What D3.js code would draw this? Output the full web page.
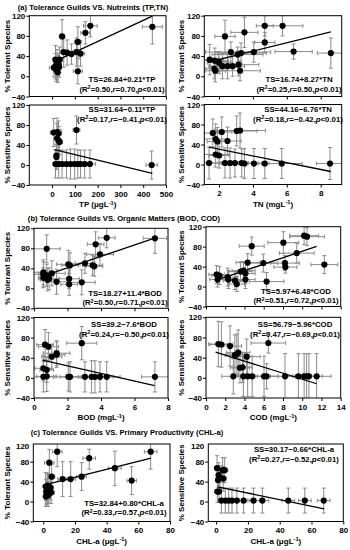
<!DOCTYPE html>
<html><head><meta charset="utf-8">
<script src="https://cdn.jsdelivr.net/npm/d3@7"></script>
<style>body{margin:0;background:#fff}svg{display:block}text{font-family:"Liberation Sans",Arial,sans-serif;font-weight:bold}</style>
</head><body><svg id="c" width="350" height="550"></svg>
<script>
// ---- data: [x, y, xErr, yErr] ----
const tsTP = [[44,79,12,33],[168,100,30,22],[146,86,20,22],[440,98,44,34],[51,48,15,30],[66,47,20,25],[85,44,25,20],[107,48,18,28],[113,68,15,30],[125,45,18,25],[113,10,20,25],[15,33,10,28],[22,28,8,25],[29,23,10,22],[15,20,6,25],[8,17,20,18],[22,17,10,24],[19,12,8,22],[25,8,6,20],[33,33,12,25],[30,18,10,20]];
const tsTN = [[4.7,100,0.5,20],[5.75,100,1.2,20],[4.7,67,0.6,20],[3.5,87,0.8,30],[2.35,79,0.6,32],[8.6,46,0.8,30],[4.05,48,1.0,20],[2.7,48,1.5,20],[3.3,46,1.5,20],[3.1,43,1.5,15],[1.45,33,0.8,30],[1.75,31,0.8,25],[1.95,29,0.6,20],[3.15,23,1.2,22],[2.2,20,0.8,25],[2.5,20,1.0,25],[1.72,15,0.5,20],[1.78,11,0.6,22],[3.24,11,1.2,20],[2.0,27,0.7,22],[2.8,20,0.5,20],[6.4,49,1.1,15]];
const ssTP = [[7,65,15,28],[22,66,20,28],[28,63,12,25],[22,53,8,30],[29,49,10,28],[33,46,12,25],[19,19,6,25],[19,16,8,25],[107,70,15,28],[437,0,25,28],[15,2,10,28],[29,2,12,28],[44,2,15,28],[63,2,20,28],[81,2,18,30],[99,2,20,30],[113,2,20,28],[125,2,18,28],[143,2,20,28],[166,2,25,28]];
const ssTN = [[1.63,63,0.5,28],[2.16,65,0.6,30],[3.04,67,1.2,30],[3.24,68,1.5,35],[1.8,51,0.7,30],[1.9,46,0.6,28],[2.5,47,0.8,28],[1.8,20,0.8,25],[2.0,18,0.6,25],[1.41,3,0.6,32],[2.35,3,0.8,30],[2.65,3,0.6,30],[2.94,3,0.8,28],[3.34,3,1.0,28],[3.5,2,0.8,30],[4.06,2,0.9,30],[4.7,2,1.0,30],[5.7,2,1.2,30],[8.55,2,0.8,32]];
const tsBOD = [[0.76,79,0.8,28],[4.34,101,0.5,20],[3.68,88,0.5,25],[3.94,68,0.8,22],[7.22,100,0.7,30],[2.05,48,0.7,28],[2.15,46,0.5,25],[3.04,50,0.6,20],[3.5,46,0.6,20],[3.6,44,0.5,20],[0.56,32,0.8,25],[0.56,28,0.6,25],[1.06,30,0.8,25],[0.76,26,0.4,22],[0.56,21,0.3,20],[0.9,19,0.6,22],[0.8,17,0.4,22],[1.35,13,0.6,25],[2.1,19,0.6,20],[2.1,8,0.5,22],[2.85,12,0.8,25]];
const ssBOD = [[0.66,66,0.5,30],[0.86,62,0.6,28],[1.06,42,0.6,25],[1.35,49,0.8,25],[1.35,46,0.5,25],[2.85,69,0.9,33],[0.56,19,0.5,25],[0.76,16,0.4,25],[0.56,2,0.6,30],[0.76,3,0.6,30],[2.05,2,0.8,28],[2.15,2,0.6,30],[3.04,2,0.8,30],[3.44,2,0.8,32],[3.64,2,0.6,32],[3.94,2,0.8,30],[4.34,2,0.8,30],[7.22,2,0.8,30]];
const tsCOD = [[4.75,81,1.3,18],[8.04,88,1.6,22],[10.2,102,1.5,18],[10.5,100,1.8,18],[9.43,67,1.8,20],[12.3,44,1.4,18],[5.96,47,1.5,18],[4.33,48,1.2,18],[8.2,47,1.5,15],[8.25,39,1.2,12],[1.1,24,0.8,18],[1.4,22,0.8,18],[2.25,19,1.0,18],[3.6,30,1.2,20],[3.9,32,1.2,18],[4.1,26,1.0,20],[1.2,14,0.8,15],[2.33,14,1.0,18],[3.0,12,1.2,18],[4.1,14,1.0,18],[3.2,5,0.8,15],[6.3,10,1.8,18]];
const ssCOD = [[1.28,67,1.0,45],[1.6,66,1.2,45],[2.5,63,1.2,40],[3.2,47,1.0,40],[3.35,50,1.2,45],[4.23,42,1.4,35],[6.48,69,1.8,20],[3.0,45,1.0,40],[3.53,20,1.0,30],[3.8,21,1.0,30],[2.84,3,1.2,35],[3.88,3,1.0,40],[4.33,3,1.0,40],[4.8,3,1.2,40],[6.03,3,1.5,40],[6.3,3,1.2,25],[8.21,3,1.5,45],[9.6,3,1.2,45],[10.2,3,1.2,45],[10.46,3,1.2,45],[10.7,3,1.4,45],[11.5,3,1.5,45]];
const tsCHL = [[3.8,78,3,30],[8.8,100,3,30],[29,87,4,22],[67.8,100,4,35],[45.2,67,4,35],[55.8,42,3,28],[5.3,50,2,25],[12.2,45,3,35],[17.3,45,3,35],[24.2,50,3,28],[1.5,30,1.5,28],[2.5,25,1.5,30],[1.8,20,1,25],[3.5,22,1.5,25],[2.2,15,1,25],[3,12,1.5,22],[4.5,28,2,25],[1.6,10,1,20],[5,18,2,22],[2.8,32,1.5,25]];
const ssCHL = [[0.6,67,1.5,25],[1.6,53,1.5,25],[4.1,63,2,25],[5.4,63,2,25],[1.2,43,1.5,25],[2.5,47,1.5,25],[4.5,46,2,25],[0.8,20,1.5,22],[1.8,20,1.5,22],[3.3,2,2,25],[5.8,2,2.5,25],[7.9,2,3,25],[10,2,3,25],[13.1,2,3,25],[17.3,2,3.5,25],[23.5,2,4,25],[29.1,2,4,25],[45.4,2,4,25],[55.8,2,4,25],[67.7,2,4,25]];

// regression fits: [intercept, slope, xFrom, xTo]
const fits = {
  tsTP:[26.84,0.21,10,440], tsTN:[16.74,8.27,1.4,8.6], ssTP:[31.64,-0.11,10,440], ssTN:[44.16,-6.76,1.4,8.6],
  tsBOD:[18.27,11.4,0.5,7.2], ssBOD:[39.2,-7.6,0.5,7.2], tsCOD:[5.97,6.48,1.0,11.5], ssCOD:[56.79,-5.96,1.0,11.5],
  tsCHL:[32.84,0.80,1,68], ssCHL:[30.17,-0.66,1,68]
};
const yTicks = [-40,0,40,80,120];
const tpTicks = [0,100,200,300,400,500];
const tnTicks = [2,4,6,8];
const bodTicks = [0,2,4,6,8];
const codTicks = [0,2,4,6,8,10,12,14];
const chlTicks = [0,20,40,60,80];

const titles = ["(a) Tolerance Guilds VS. Nutreints (TP,TN)","(b) Tolerance Guilds VS. Organic Matters (BOD, COD)","(c) Tolerance Guilds VS. Primary Productivity (CHL-a)"];

const svg = d3.select("#c");
let clipId = 0;

function supText(sel, parts){
  parts.forEach(p=>{
    const t = sel.append("tspan").text(p[0]);
    if(p[1]==="sup") t.attr("font-size","0.7em").attr("dy","-0.4em");
    if(p[1]==="down") t.attr("dy","0.28em");
    if(p[1]==="i") t.attr("font-style","italic");
  });
}

function panel(c){
  const x = d3.scaleLinear().domain(c.xd).range([c.l,c.r]);
  const y = c.ys ? d3.scaleLinear().domain(c.ys[0]).range(c.ys[1])
                 : d3.scaleLinear().domain([-40,120]).range([c.b,c.t]);
  const g = svg.append("g");
  const id = "cl"+(clipId++);
  g.append("clipPath").attr("id",id).append("rect").attr("x",c.l).attr("y",c.t).attr("width",c.r-c.l).attr("height",c.b-c.t);
  const pg = g.append("g").attr("clip-path",`url(#${id})`);
  const eb = pg.append("g").attr("stroke","#8a8a8a").attr("stroke-width",1).attr("fill","none");
  c.data.forEach(d=>{
    const px=x(d[0]), py=y(d[1]);
    const x0=x(d[0]-d[2]), x1=x(d[0]+d[2]), y0=y(d[1]-d[3]), y1=y(d[1]+d[3]);
    eb.append("line").attr("x1",x0).attr("x2",x1).attr("y1",py).attr("y2",py);
    eb.append("line").attr("x1",x0).attr("x2",x0).attr("y1",py-2).attr("y2",py+2);
    eb.append("line").attr("x1",x1).attr("x2",x1).attr("y1",py-2).attr("y2",py+2);
    eb.append("line").attr("x1",px).attr("x2",px).attr("y1",y0).attr("y2",y1);
    eb.append("line").attr("x1",px-2).attr("x2",px+2).attr("y1",y0).attr("y2",y0);
    eb.append("line").attr("x1",px-2).attr("x2",px+2).attr("y1",y1).attr("y2",y1);
  });
  const f=c.fit;
  pg.append("line").attr("x1",x(f[2])).attr("y1",y(f[0]+f[1]*f[2])).attr("x2",x(f[3])).attr("y2",y(f[0]+f[1]*f[3]))
    .attr("stroke","#000").attr("stroke-width",1.3);
  pg.append("g").selectAll("circle").data(c.data).join("circle")
    .attr("cx",d=>x(d[0])).attr("cy",d=>y(d[1])).attr("r",3.1).attr("fill","#000");
  g.append("rect").attr("x",c.l).attr("y",c.t).attr("width",c.r-c.l).attr("height",c.b-c.t)
    .attr("fill","none").attr("stroke","#000").attr("stroke-width",1);
  const ya = g.append("g").attr("transform",`translate(${c.l},0)`)
    .call(d3.axisLeft(y).tickValues(yTicks).tickSize(3).tickPadding(1).tickSizeOuter(0));
  ya.select(".domain").remove();
  ya.selectAll("text").attr("font-size",8).attr("font-family","Liberation Sans, Arial").attr("font-weight","bold").attr("fill","#000");
  if(c.ys) ya.selectAll(".tick").filter(d=>d>100).select("line").remove();
  const xa = g.append("g").attr("transform",`translate(0,${c.b})`)
    .call(d3.axisBottom(x).tickValues(c.xt).tickSize(3).tickPadding(3).tickSizeOuter(0).tickFormat(c.showX? d3.format("d"):()=>""));
  xa.select(".domain").remove();
  xa.selectAll("text").attr("font-size",8).attr("font-family","Liberation Sans, Arial").attr("font-weight","bold").attr("fill","#000");
  svg.append("text").attr("transform",`translate(${c.yl},${(c.t+c.b)/2}) rotate(-90)`)
    .attr("text-anchor","middle").attr("font-size",8).text(c.ylab);
  if(c.showX){
    const t = svg.append("text").attr("x",(c.l+c.r)/2).attr("y",c.b+c.xlo).attr("text-anchor","middle").attr("font-size",8);
    supText(t,c.xlab);
  }
  svg.append("text").attr("x",c.ex).attr("y",c.ey).attr("text-anchor","middle").attr("font-size",7.8).text(c.eq1);
  const e2 = svg.append("text").attr("x",c.ex).attr("y",c.ey+9.5).attr("text-anchor","middle").attr("font-size",7.8);
  supText(e2,c.eq2);
}

function stats(r2,r){ return [["(R"],["2","sup"],["=" + r2 + ",","down"],["r","i"],["="+r+","],["p","i"],["<0.01)"]]; }
const tpLab=[["TP (\u03bcgL"],["-1","sup"],[")","down"]];
const tnLab=[["TN (mgL"],["-1","sup"],[")","down"]];
const bodLab=[["BOD (mgL"],["-1","sup"],[")","down"]];
const codLab=[["COD (mgL"],["-1","sup"],[")","down"]];
const chlLab=[["CHL-a (\u03bcgL"],["-1","sup"],[")","down"]];

svg.append("text").attr("x",93).attr("y",9.5).attr("text-anchor","middle").attr("font-size",7.6).text(titles[0]);
svg.append("text").attr("x",124).attr("y",221).attr("text-anchor","middle").attr("font-size",7.6).text(titles[1]);
svg.append("text").attr("x",127).attr("y",434.5).attr("text-anchor","middle").attr("font-size",7.6).text(titles[2]);

const L1={l:29.3,r:166}, R1={l:204.3,r:341.7};
panel({...L1,t:15.7,b:96.5,xd:[-100,500],xt:tpTicks,showX:false,data:tsTP,fit:fits.tsTP,yl:10,ylab:"% Tolerant Species",ex:122,ey:82,eq1:"TS=26.84+0.21*TP",eq2:stats("0.50","0.70")});
panel({...R1,t:15.7,b:96.5,xd:[1.13,9.24],xt:tnTicks,showX:false,data:tsTN,fit:fits.tsTN,yl:184,ylab:"% Tolerant Species",ex:299,ey:82,eq1:"TS=16.74+8.27*TN",eq2:stats("0.25","0.50")});
panel({...L1,t:105,b:185,xd:[-100,500],xt:tpTicks,showX:true,xlo:22,xlab:tpLab,data:ssTP,fit:fits.ssTP,yl:10,ylab:"% Sensitive Species",ex:122,ey:112,eq1:"SS=31.64\u22120.11*TP",eq2:stats("0.17","\u22120.41")});
panel({...R1,t:104.5,b:184.5,xd:[1.13,9.24],xt:tnTicks,showX:true,xlo:22,xlab:tnLab,data:ssTN,fit:fits.ssTN,yl:184,ylab:"% Sensitive Species",ex:298,ey:112,eq1:"SS=44.16\u22126.76*TN",eq2:stats("0.18","\u22120.42")});

const L2={l:34,r:168}, R2={l:206,r:340.7};
panel({...L2,t:228.3,b:308.3,xd:[0,8],xt:bodTicks,showX:false,data:tsBOD,fit:fits.tsBOD,yl:10,ylab:"% Tolerant Species",ex:125,ey:295.5,eq1:"TS=18.27+11.4*BOD",eq2:stats("0.50","0.71")});
panel({...R2,t:226.7,b:306.5,xd:[0,14],xt:codTicks,showX:false,data:tsCOD,fit:fits.tsCOD,yl:184,ylab:"% Tolerant Species",ex:296,ey:293.5,eq1:"TS=5.97+6.48*COD",eq2:stats("0.51","0.72")});
panel({...L2,t:317.5,b:398,xd:[0,8],xt:bodTicks,showX:true,xlo:22,xlab:bodLab,data:ssBOD,fit:fits.ssBOD,yl:10,ylab:"% Sensitive species",ex:124,ey:327,eq1:"SS=39.2\u22127.6*BOD",eq2:stats("0.24","\u22120.50")});
panel({...R2,t:317.3,b:398,xd:[0,14],xt:codTicks,showX:true,xlo:22,xlab:codLab,data:ssCOD,fit:fits.ssCOD,yl:184,ylab:"% Sensitive species",ex:295,ey:327,eq1:"SS=56.79\u22125.96*COD",eq2:stats("0.47","\u22120.69")});

// row (c): compressed top band, as in the reference
const cY = [[-40,100,120],[521.5,451.7,446]];
panel({l:33.3,r:170,t:444,b:521.5,ys:cY,xd:[-6.3,80],xt:chlTicks,showX:true,xlo:22,xlab:chlLab,data:tsCHL,fit:fits.tsCHL,yl:10,ylab:"% Tolerant Species",ex:124,ey:505.5,eq1:"TS=32.84+0.80*CHL-a",eq2:stats("0.33","0.57")});
panel({l:208.3,r:343.3,t:444,b:521.5,ys:cY,xd:[-4.9,80],xt:chlTicks,showX:true,xlo:22,xlab:chlLab,data:ssCHL,fit:fits.ssCHL,yl:184,ylab:"% Sensitive Species",ex:294,ey:452,eq1:"SS=30.17\u22120.66*CHL-a",eq2:stats("0.27","\u22120.52")});
</script></body></html>
